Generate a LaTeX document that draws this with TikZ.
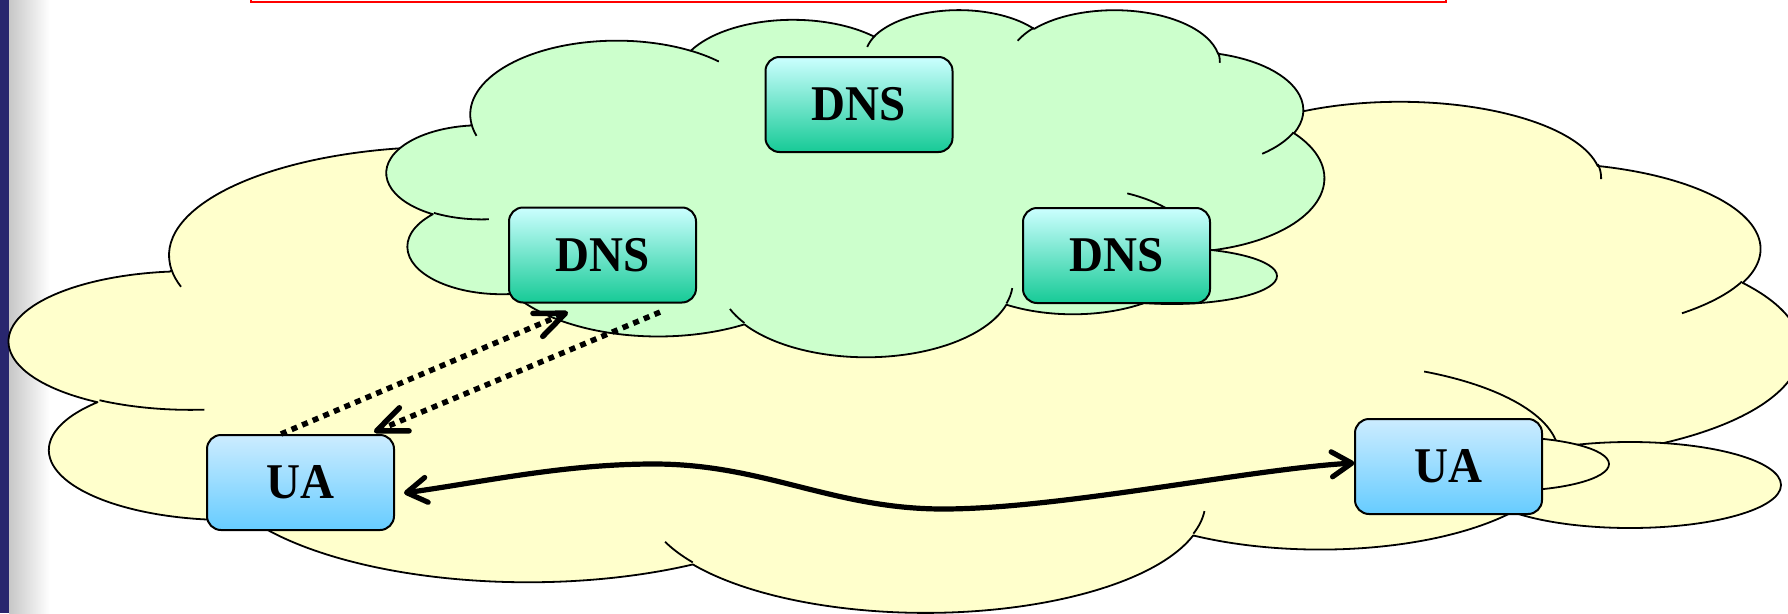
\documentclass[tikz,border=0pt]{standalone}
\usepackage{fontspec}
\setmainfont{Liberation Serif}
\newfontfamily\labelfont{Liberation Serif}[FakeStretch=0.94]
\usetikzlibrary{arrows.meta}

\definecolor{navybar}{RGB}{40,38,110}
\definecolor{cloudyellow}{RGB}{255,255,204}
\definecolor{cloudgreen}{RGB}{204,255,204}
\definecolor{dnstop}{RGB}{204,255,255}
\definecolor{dnsbottom}{RGB}{22,202,150}
\definecolor{uatop}{RGB}{204,236,255}
\definecolor{uabottom}{RGB}{102,204,255}

% visual ellipse angle -> parametric angle (keeps the winding)
\pgfmathdeclarefunction{vispar}{3}{%
  \begingroup
    \pgfmathparse{atan2((#2)*sin(#1),(#3)*cos(#1))}%
    \let\vpT\pgfmathresult
    \pgfmathparse{\vpT+360*round(((#1)-\vpT)/360)}%
    \pgfmathsmuggle\pgfmathresult
  \endgroup}

% one lobe of the cloud outline: radii, start angle, sweep
\newcommand\cloudarc[4]{arc[x radius=#1pt,y radius=#2pt,start angle={vispar(#3,#1,#2)},end angle={vispar(#3+#4,#1,#2)}]}

% cloud in a 432 x 432 frame: left, top, x scale, y scale, fill colour
\newcommand\cloudshape[5]{%
  \begin{scope}[shift={(#1,-#2)},xscale=#3,yscale=-#4]
    \path[cloudedge,fill=#5]
      (39.00,143.70)
      \cloudarc{67.53}{91.90}{-190.4875}{123.7805}
      \cloudarc{53.33}{72.67}{-144.1024}{89.9452}
      \cloudarc{43.65}{59.45}{-145.8079}{99.7230}
      \cloudarc{48.57}{65.95}{-130.9861}{117.2417}
      \cloudarc{53.33}{72.73}{-78.7089}{109.0269}
      \cloudarc{67.75}{92.20}{-46.2673}{130.2690}
      \cloudarc{57.85}{78.67}{0.6250}{114.0333}
      \cloudarc{67.52}{92.15}{22.4516}{115.1726}
      \cloudarc{77.20}{105.43}{66.2426}{75.7110}
      \cloudarc{43.60}{59.18}{-274.9421}{146.7356}
      \cloudarc{43.45}{59.45}{-246.8285}{152.5189}
      -- cycle;
    \path[cloudedge]
      (46.93,261.77) \cloudarc{43.45}{59.45}{86.7420}{26.4295}
      (69.28,348.99) \cloudarc{43.60}{59.18}{73.6105}{11.4475}
      (164.78,390.90) \cloudarc{67.52}{92.15}{137.6242}{14.0811}
      (288.27,347.51) \cloudarc{67.52}{92.15}{6.4533}{15.9984}
      (341.29,229.54) \cloudarc{57.85}{78.67}{-70.2924}{70.9174}
      (417.98,153.54) \cloudarc{53.33}{72.73}{30.3180}{27.7515}
      (383.24,54.26) \cloudarc{48.57}{65.95}{-13.7443}{14.8589}
      (290.78,39.52) \cloudarc{48.57}{65.95}{-149.1815}{18.1954}
      (221.41,47.20) \cloudarc{43.65}{59.45}{-163.4943}{17.6864}
      (140.00,51.92) \cloudarc{67.53}{91.90}{-66.7070}{12.3194}
      (41.27,157.89) \cloudarc{67.53}{91.90}{157.6544}{11.8582};
  \end{scope}}

\begin{document}
\begin{tikzpicture}[x=1pt,y=1pt,
  cloudedge/.style={draw=black,line width=1.8pt,line join=round},
  server/.style={draw=black,line width=2pt,rounded corners=14pt,
    minimum width=187pt,minimum height=95pt,inner sep=0pt,
    font=\labelfont\bfseries\fontsize{50}{50}\selectfont},
  dnsbox/.style={server,top color=dnstop,bottom color=dnsbottom},
  uabox/.style={server,top color=uatop,bottom color=uabottom},
  dotarrow/.style={line width=5.5pt,dash pattern=on 6pt off 5.5pt,
    -{Straight Barb[length=30pt,width=25pt,round]}},
  wavearrow/.style={line width=5.2pt,line cap=round,
    {Straight Barb[length=20pt,width=25pt,round]}-{Straight Barb[length=20pt,width=25pt,round]}}]

\useasboundingbox (0,0) rectangle (1788,-613);

% slide edge
\fill[navybar] (0,0) rectangle (9,-613);
\shade[left color=black!22,right color=white] (9,0) rectangle (50,-613);

% title frame above
\draw[red,line width=2pt,fill=white] (251,20) rectangle (1446,-2);

% access network cloud
\cloudshape{10}{100}{4.143519}{1.182870}{cloudyellow}
\path[cloudedge,fill=cloudyellow] (1630,-485) ellipse[x radius=151,y radius=43];
\path[cloudedge,fill=cloudyellow] (1504,-464) ellipse[x radius=105,y radius=27];

% DNS cloud
\cloudshape{387}{9}{2.168981}{0.803241}{cloudgreen}
\path[cloudedge,fill=cloudgreen] (1172,-276) ellipse[x radius=105,y radius=28];

% servers and user agents
\node[dnsbox] (dnsT) at (859,-104.5) {DNS};
\node[dnsbox] (dnsL) at (602.5,-255) {DNS};
\node[dnsbox] (dnsR) at (1116.5,-255.5) {DNS};
\node[uabox] (uaL) at (300.5,-482.5) {UA};
\node[uabox] (uaR) at (1448.5,-466.5) {UA};

% DNS query and answer
\draw[dotarrow] ([xshift=75pt]uaL.north west) -- ([xshift=60pt,yshift=-8.6pt]dnsL.south west);
\draw[dotarrow] ([xshift=152pt,yshift=-8.6pt]dnsL.south west) -- ([xshift=168pt,yshift=2pt]uaL.north west);

% session between the user agents
\draw[wavearrow] ([xshift=9pt,yshift=-10.5pt]uaL.east)
  .. controls (483,-482) and (564,-464) .. (654,-464)
  .. controls (764,-464) and (833,-509) .. (943,-509)
  .. controls (1060,-509) and (1250,-469) .. ([xshift=0.4pt,yshift=3.5pt]uaR.west);
\end{tikzpicture}
\end{document}
